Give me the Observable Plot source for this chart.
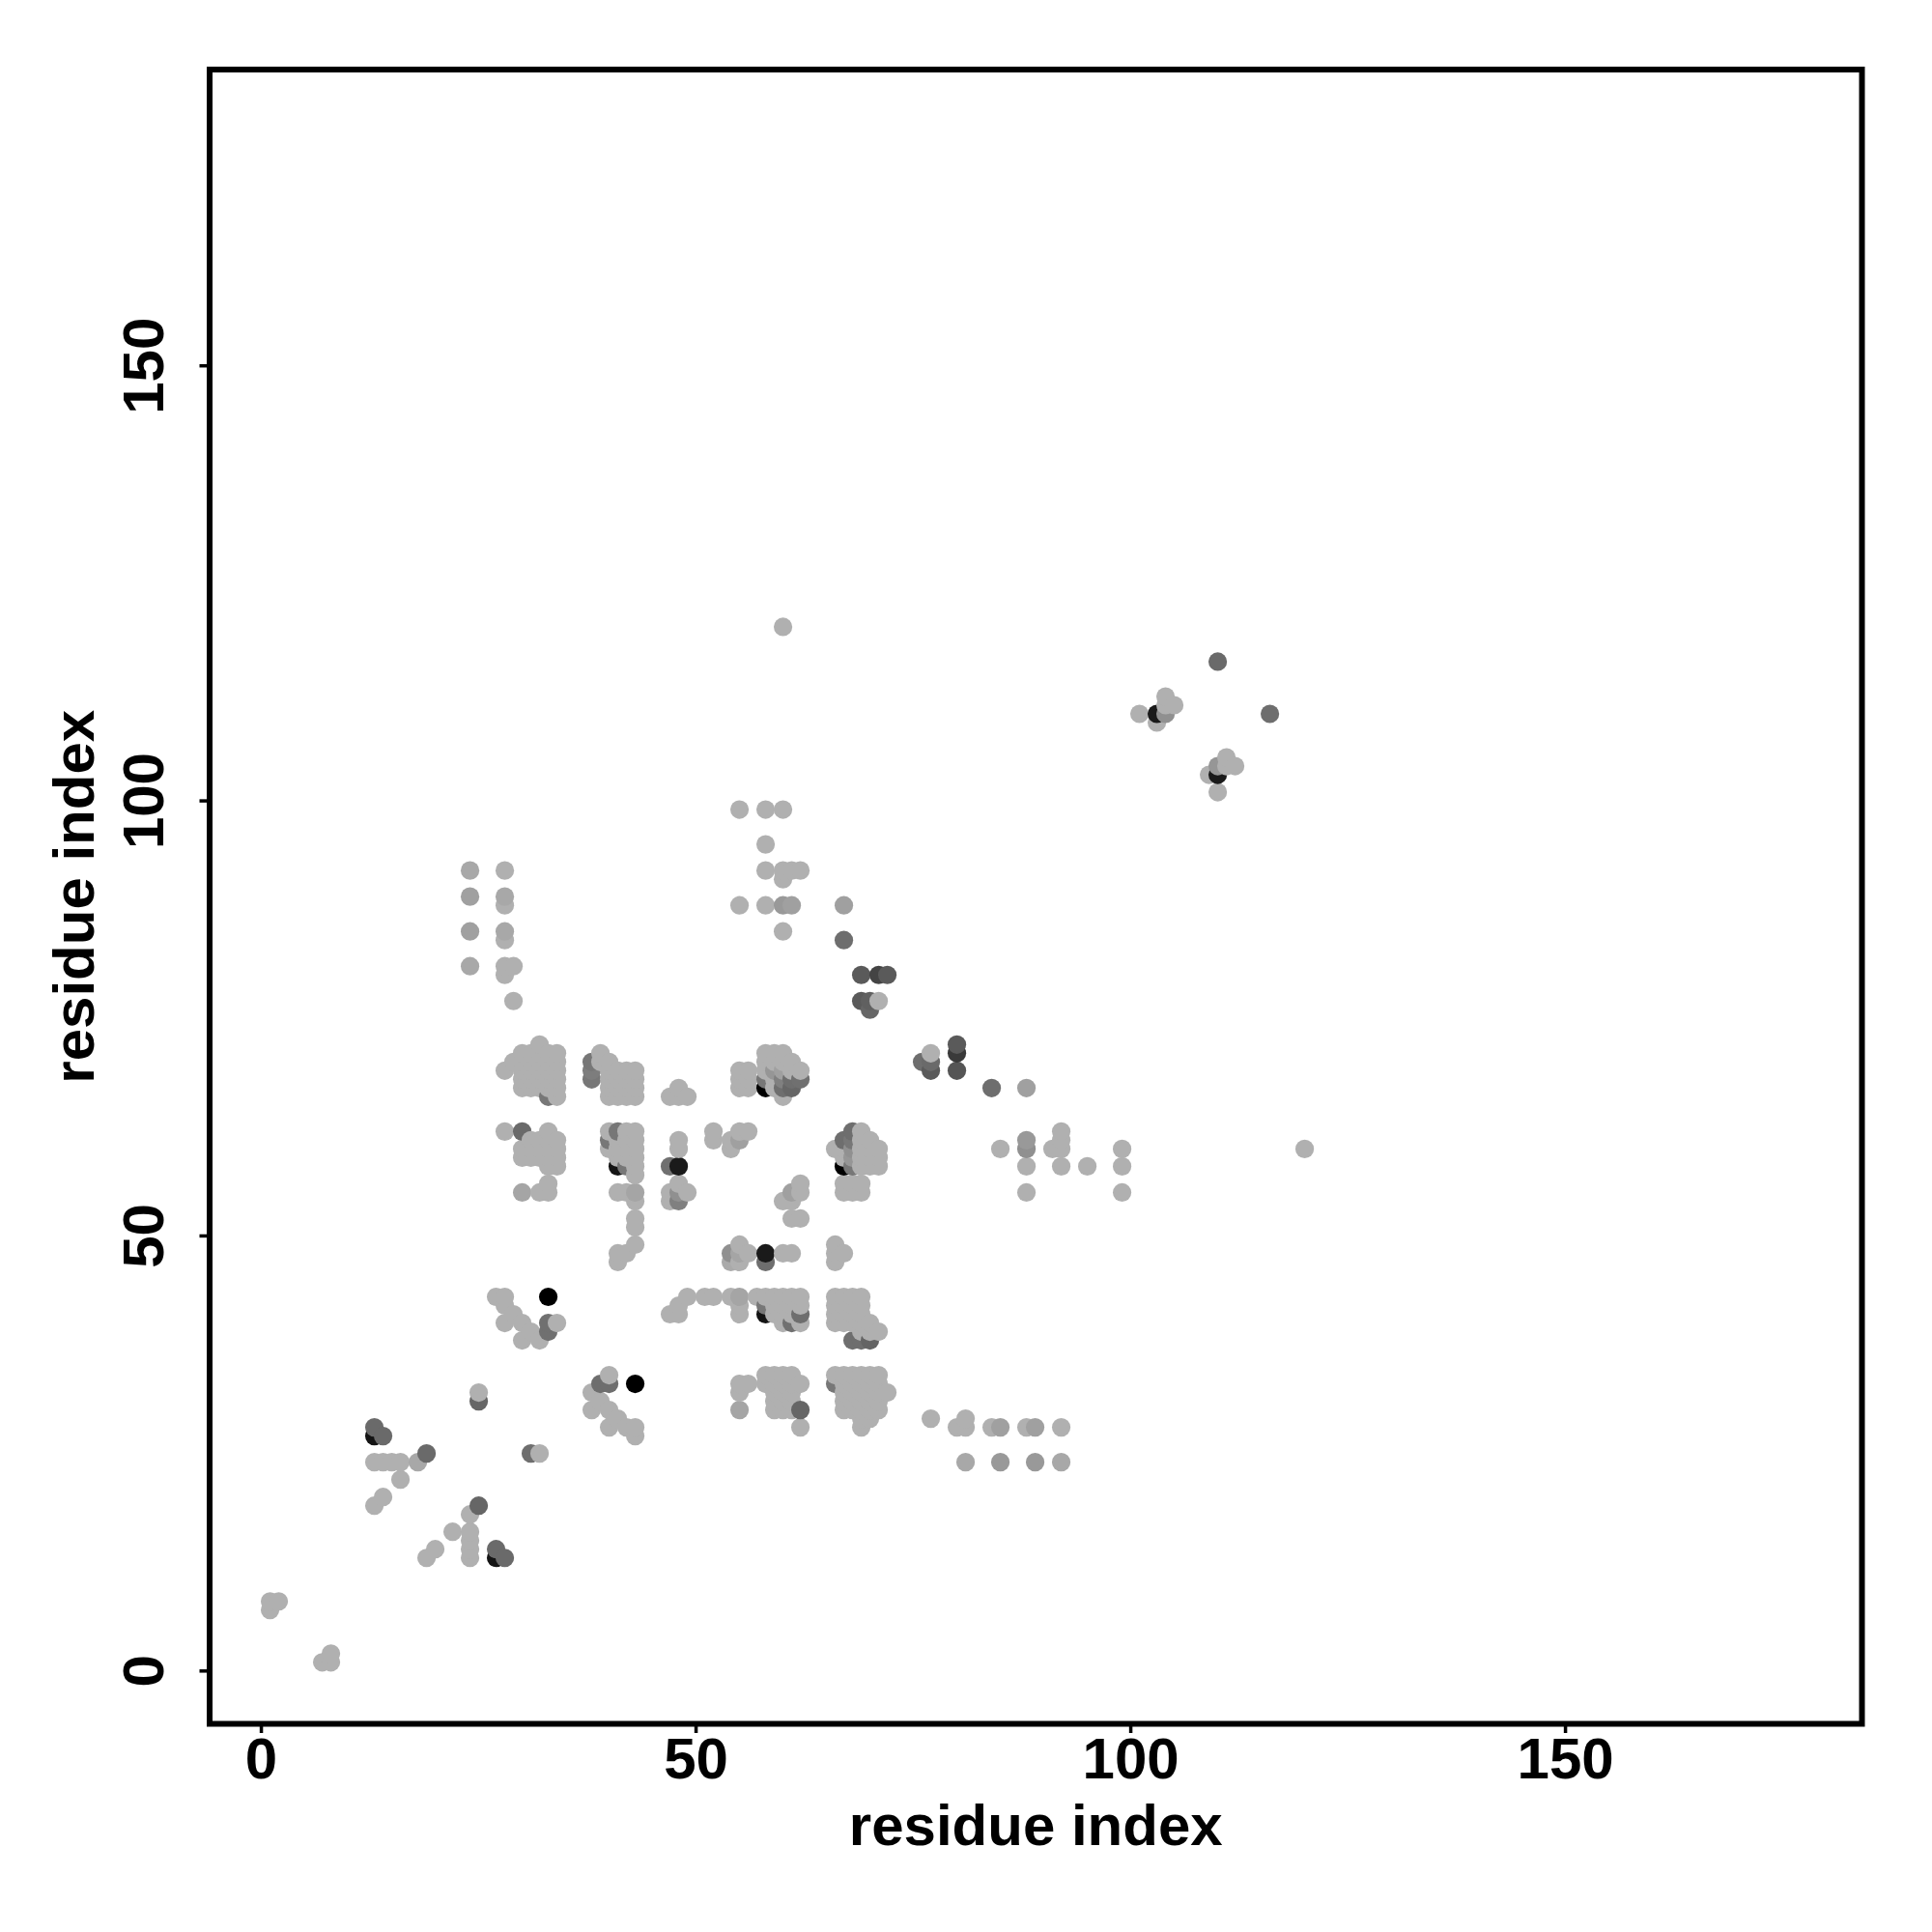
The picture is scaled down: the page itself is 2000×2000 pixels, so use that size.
<!DOCTYPE html>
<html>
<head>
<meta charset="utf-8">
<script src="https://cdn.jsdelivr.net/npm/d3@7"></script>
<script src="https://cdn.jsdelivr.net/npm/@observablehq/plot@0.6"></script>
<style>html,body{margin:0;padding:0;background:#fff}</style>
</head>
<body>
<div id="chart"></div>
<script>
// residue i, list of residues j in contact with it
const columnsLow = [
  [1,[7,8]],[2,[8]],[7,[1]],[8,[1,2]],
  [13,[19,24,27,28]],[14,[20,24,27]],[15,[24]],[16,[22,24]],[18,[24]],[19,[13,25]],[20,[14]],[22,[16]],
  [24,[13,14,15,16,18,81,85,89,92]],[25,[19,31,32]],[27,[13,14,43]],
  [28,[13,40,42,43,62,69,80,81,84,85,88,89,92]],[29,[41,70,77,81]],
  [30,[38,40,55,59,60,62,67,68,69,70,71]],[31,[25,39,59,60,61,67,68,69,70,71]],
  [32,[25,38,55,59,60,61,67,68,69,70,71,72]],
  [33,[39,40,43,55,56,58,59,60,61,62,66,67,68,69,70,71]],
  [34,[40,58,59,60,61,66,67,68,69,70,71]]
];
const columnsMid = [
  [38,[30,32,68,69,70]],[39,[31,33,70,71]],
  [40,[28,30,33,34,60,61,62,66,67,68,69,70]],
  [41,[29,47,48,55,58,59,60,61,62,66,67,68,69]],
  [42,[28,48,55,58,59,60,61,62,66,67,68,69]],
  [43,[27,28,33,49,51,52,54,55,57,58,59,60,61,62,66,67,68,69]],
  [47,[41,54,55,58,66]],[48,[41,42,54,55,56,58,60,61,66,67]],[49,[43,55,66]],
  [51,[43]],[52,[43,61,62]],[54,[43,47,48,60,61]],
  [55,[30,32,33,41,42,43,47,48,49,61,62,67,68,69,88,99]],
  [56,[33,48,62,67,68,69]],[57,[43]],
  [58,[33,34,41,42,43,47,48,67,68,69,70,71,88,92,95,99]],
  [59,[30,31,32,33,34,41,42,43,67,68,69,70,71]],
  [60,[30,31,32,33,34,40,41,42,43,48,54,66,67,68,69,70,71,85,88,91,92,99,120]],
  [61,[30,31,32,33,34,40,41,42,43,48,52,54,55,67,68,69,70,88,92]],
  [62,[28,30,33,40,41,42,43,52,55,56,68,69,92]]
];
const columnsHigh = [
  [66,[33,34,40,41,42,43,47,48,49,60]],
  [67,[30,31,32,33,34,40,41,42,43,48,55,56,58,59,60,61,84,88]],
  [68,[30,31,32,33,34,38,40,41,42,43,55,56,58,59,60,61,62]],
  [69,[28,29,30,31,32,33,34,38,39,40,41,42,43,55,56,58,59,60,61,62,77,80]],
  [70,[29,30,31,32,33,34,38,39,40,58,59,60,61,76,77]],
  [71,[30,31,32,33,34,39,58,59,60,77,80]],[72,[32,80]],
  [76,[70]],[77,[29,69,70,71]],[80,[28,69,71,72]],[81,[24,28,29]],[84,[28,67]],[85,[24,28,60]],
  [88,[28,55,58,60,61,67]],[89,[24,28]],[91,[60]],[92,[24,28,58,60,61,62]],[95,[58]],[99,[55,58,60]],
  [101,[110]],[103,[109,110]],[104,[110,111,112]],[105,[111]],[109,[103]],
  [110,[101,103,104,116]],[111,[104,105]],[112,[104]],[116,[110]],[120,[60]]
];
// contact strength (0 strongest), most contacts sit at the weak end
const weakSignal = 176;
const strongerContacts = [
  [13,27,20],[13,28,106],[14,27,106],[18,24,168],[19,25,106],[25,19,102],[25,31,102],[27,13,20],[27,14,106],[28,13,106],
  [24,81,168],[24,85,160],[24,89,160],[24,92,168],[28,85,168],[28,89,168],
  [31,25,110],[33,39,112],[33,40,112],[33,43,0],[30,62,106],[30,55,165],[33,66,119],
  [38,68,119],[38,69,125],[38,70,119],[39,33,110],[40,33,110],[43,33,0],[40,61,119],[41,62,119],[41,58,20],[42,58,119],[43,55,165],
  [47,58,112],[48,58,26],[48,55,144],[48,54,128],[54,48,144],[54,47,170],[55,48,165],[55,61,160],[55,43,165],[55,30,165],
  [58,42,119],[58,41,20],[58,48,26],[58,47,110],[62,41,110],[61,40,112],[62,30,102],
  [58,68,119],[58,67,0],[59,69,150],[60,67,110],[60,68,128],[60,69,160],[61,67,102],[61,68,110],[62,68,112],[61,55,160],
  [60,88,153],[61,88,160],[66,33,119],[67,84,110],[67,88,160],[67,61,110],[68,62,110],[68,61,119],[68,60,144],[68,59,150],[67,58,0],[68,58,119],
  [68,38,110],[69,38,110],[70,38,100],[69,80,90],[71,80,68],[72,80,90],[69,77,90],[70,77,96],[70,76,102],
  [76,70,110],[77,69,90],[77,70,106],[80,69,85],[80,71,58],[80,72,90],[84,67,110],[88,67,160],
  [85,28,160],[89,28,160],[85,24,153],[89,24,153],[92,24,168],[81,24,168],[88,61,153],[88,60,144],
  [103,110,26],[104,110,144],[110,116,106],[116,110,110],[110,103,26],[110,104,150]
];
const axisTicks = [0,50,100,150];
const axisName = "residue index";

const strength = new Map(strongerContacts.map(([i,j,s]) => [i + "-" + j, s]));
const contacts = [...columnsLow, ...columnsMid, ...columnsHigh].flatMap(([i, js]) =>
  js.map(j => ({i, j, signal: strength.has(i + "-" + j) ? strength.get(i + "-" + j) : weakSignal})));

const fontSize = 60;
const chart = Plot.plot({
  width: 2000, height: 2000,
  marginLeft: 216.5, marginRight: 73, marginTop: 71.5, marginBottom: 216,
  style: {fontFamily: "'Liberation Sans', Arial, sans-serif", fontWeight: "bold", background: "#fff", color: "#000"},
  x: {domain: [-5.95, 184.1]},
  y: {domain: [-6.07, 184.05]},
  color: {type: "linear", domain: [0, weakSignal], range: ["#000000", "#b0b0b0"]},
  marks: [
    Plot.dot(contacts, {x: "i", y: "j", r: 9.6, fill: "signal", stroke: null}),
    Plot.frame({stroke: "#000", strokeWidth: 6}),
    Plot.axisX({ticks: axisTicks, tickSize: 10, strokeWidth: 3.5, tickPadding: 4, fontSize,
      tickFormat: d => String(d), label: null}),
    Plot.axisY({ticks: axisTicks, tickSize: 10, strokeWidth: 3.5, tickPadding: 38, fontSize, tickRotate: -90,
      tickFormat: d => String(d), label: null}),
    Plot.axisX({ticks: [], tickSize: 0, label: axisName, labelAnchor: "center", labelArrow: "none", labelOffset: 125, fontSize}),
    Plot.axisY({ticks: [], tickSize: 0, label: axisName, labelAnchor: "center", labelArrow: "none", labelOffset: 163, fontSize})
  ]
});
document.getElementById("chart").appendChild(chart);
</script>
</body>
</html>
